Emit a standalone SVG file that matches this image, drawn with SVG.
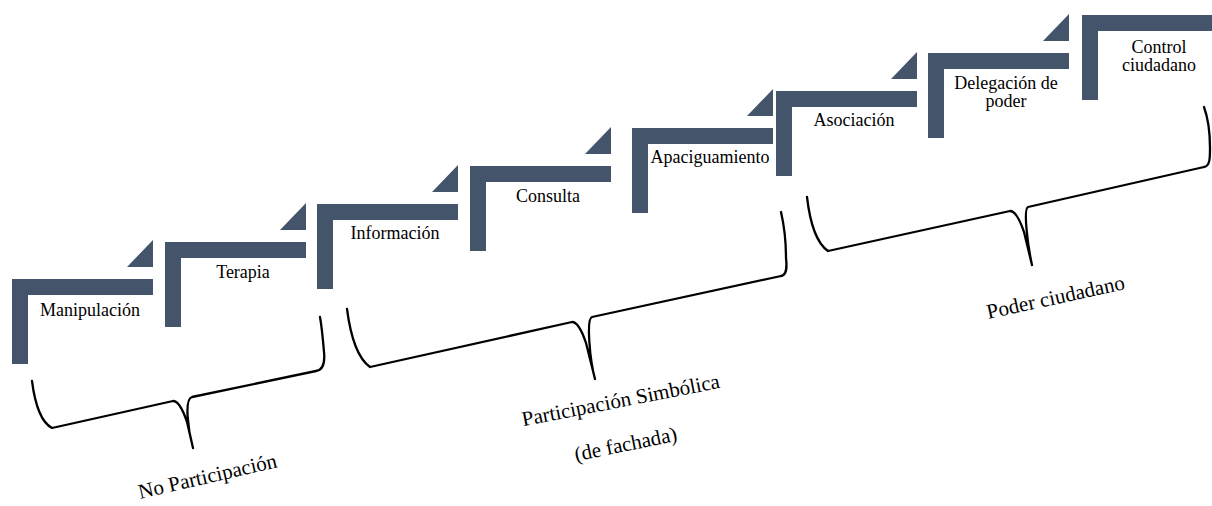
<svg xmlns="http://www.w3.org/2000/svg" xmlns:xlink="http://www.w3.org/1999/xlink" width="1212" height="506" viewBox="0 0 1212 506">
<style>
.bar{fill:#44546A}
.lbl{font-family:"Liberation Serif","Times New Roman",serif;font-size:18px;fill:#000;text-anchor:middle}
.grp{font-family:"Liberation Serif","Times New Roman",serif;font-size:21px;fill:#000;text-anchor:middle}
.brace{fill:none;stroke:#000;stroke-width:2.3;stroke-linecap:round;stroke-linejoin:round}
</style>
<defs>
<path id="stepL" class="bar" d="M0 0 H141 V16 H16 V85 H0 Z"/>
<polygon id="stepTri" class="bar" points="141,-39 141,-12 115,-12"/>
</defs>
<rect width="1212" height="506" fill="#fff"/>
<g id="step-manipulacion" transform="translate(12 279)">
<use xlink:href="#stepL"/><use xlink:href="#stepTri"/>
<text class="lbl" x="78" y="37">Manipulación</text>
</g>
<g id="step-terapia" transform="translate(165 242)">
<use xlink:href="#stepL"/><use xlink:href="#stepTri"/>
<text class="lbl" x="78" y="36">Terapia</text>
</g>
<g id="step-informacion" transform="translate(317 204)">
<use xlink:href="#stepL"/><use xlink:href="#stepTri"/>
<text class="lbl" x="78" y="35">Información</text>
</g>
<g id="step-consulta" transform="translate(470 166)">
<use xlink:href="#stepL"/><use xlink:href="#stepTri"/>
<text class="lbl" x="78" y="36">Consulta</text>
</g>
<g id="step-apaciguamiento" transform="translate(632 128)">
<use xlink:href="#stepL"/><use xlink:href="#stepTri"/>
<text class="lbl" x="78" y="35">Apaciguamiento</text>
</g>
<g id="step-asociacion" transform="translate(776 91)">
<use xlink:href="#stepL"/><use xlink:href="#stepTri"/>
<text class="lbl" x="78" y="35">Asociación</text>
</g>
<g id="step-delegacion" transform="translate(928 53)">
<use xlink:href="#stepL"/><use xlink:href="#stepTri"/>
<text class="lbl" x="78" y="36">Delegación de</text>
<text class="lbl" x="78" y="54">poder</text>
</g>
<g id="step-control" transform="translate(1082 15)">
<use xlink:href="#stepL"/>
<text class="lbl" x="77" y="38">Control</text>
<text class="lbl" x="77" y="56">ciudadano</text>
</g>
<g id="braces">
<path class="brace" d="M32 381 Q37 420 52 428 L173 401 C178 401 183 410 187 422 L193 448 M193 448 C188 430 184 399 192 397 L316 371 C324 370 325 362 324 352 C323 340 322 328 320 317"/>
<path class="brace" d="M347 309 Q353 355 370 367 L572 322 C577 322 582 331 586 343 L595 379 M595 379 C590 361 586 319 592 317 L781 276 C787 275 787 267 786 258 C786 240 784 225 781 212"/>
<path class="brace" d="M807 197 Q812 240 828 251 L1010 211 C1015 211 1020 220 1024 232 L1032 265 M1032 265 C1028 247 1023 209 1028 207 L1204 167 C1210 166 1210 158 1210 148 C1210 130 1208 118 1204 107"/>
</g>
<g id="group-labels">
<text class="grp" transform="translate(209 483) rotate(-13)">No Participación</text>
<text class="grp" transform="translate(622 407) rotate(-11)">Participación Simbólica</text>
<text class="grp" transform="translate(627 451) rotate(-11.5)">(de fachada)</text>
<text class="grp" transform="translate(1057 304) rotate(-12.3)">Poder ciudadano</text>
</g>
</svg>
